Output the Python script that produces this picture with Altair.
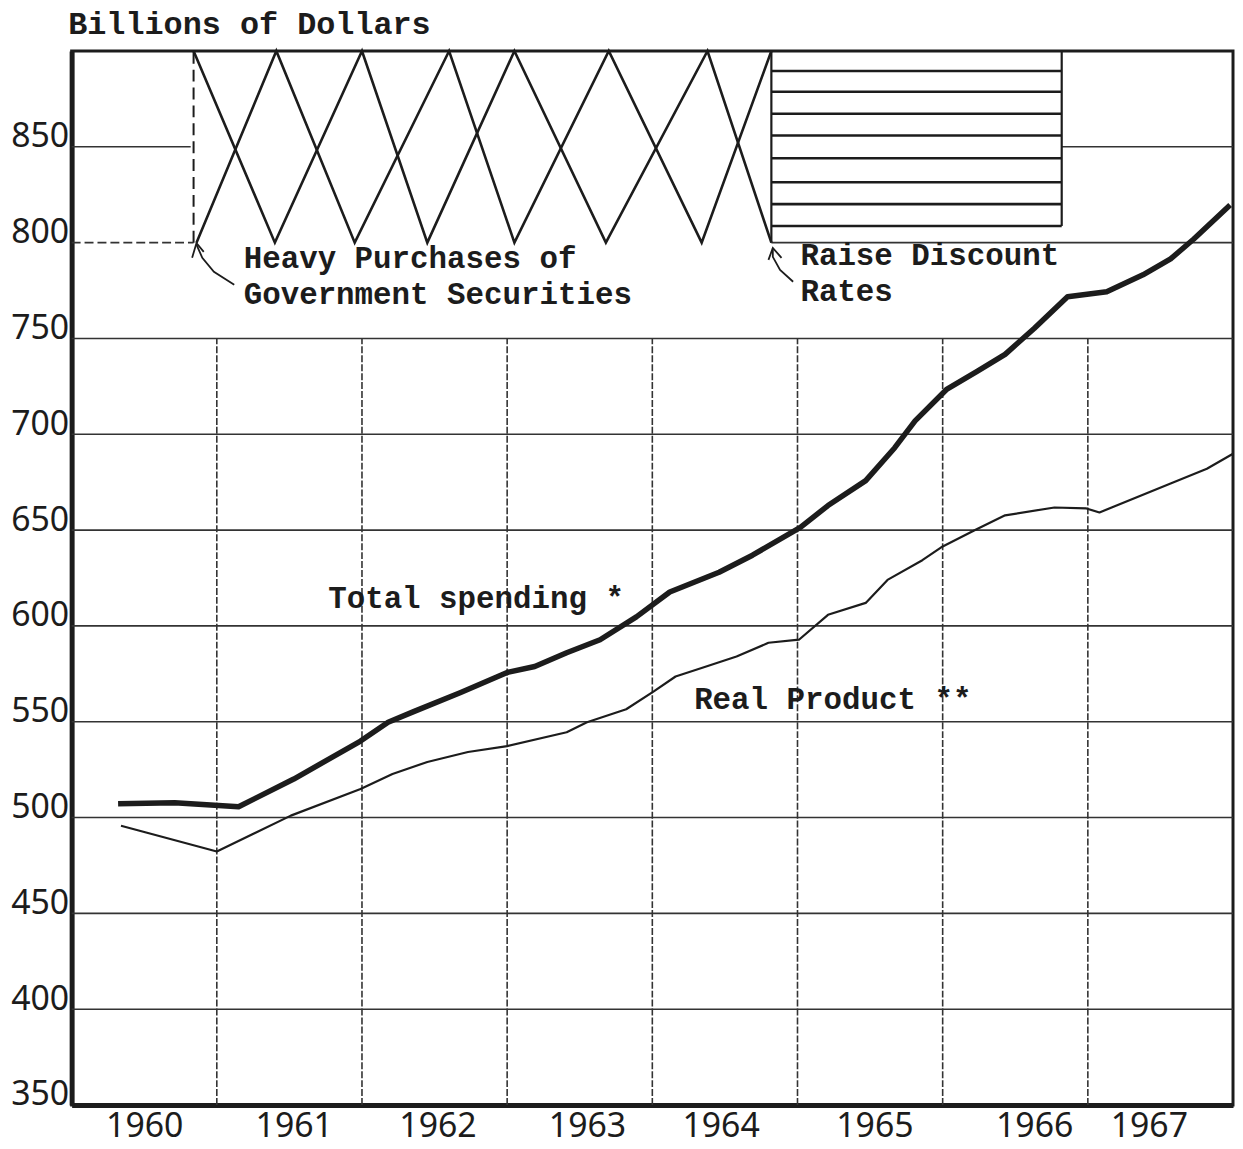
import altair as alt
import pandas as pd

INK = "#1c1c1c"
FONT_TYPE = "Liberation Mono"
FONT_HAND = "Noto Sans"

# ---- data series (x in fractional years, values in billions of dollars) ----
spend_t = [1960.32, 1960.71, 1961.15, 1961.53, 1961.99, 1962.18, 1962.36, 1962.68,
           1963.00, 1963.19, 1963.41, 1963.64, 1963.89, 1964.12, 1964.46, 1964.69,
           1965.02, 1965.21, 1965.47, 1965.67, 1965.81, 1966.03, 1966.24, 1966.43,
           1966.63, 1966.86, 1967.13, 1967.38, 1967.57, 1967.73, 1967.98]
spend_v = [507.2, 507.7, 505.6, 520.1, 539.9, 549.7, 555.4, 565.3,
           575.7, 578.8, 586.0, 592.8, 604.7, 617.7, 628.0, 636.9,
           651.4, 662.8, 675.8, 693.0, 707.0, 723.6, 732.9, 741.7,
           755.2, 771.8, 774.4, 783.2, 791.5, 801.9, 819.6]

real_t = [1960.34, 1961.00, 1961.51, 1961.99, 1962.21, 1962.45, 1962.73, 1963.00,
          1963.41, 1963.55, 1963.82, 1964.01, 1964.16, 1964.35, 1964.58, 1964.80,
          1965.01, 1965.21, 1965.47, 1965.62, 1965.86, 1965.99, 1966.22, 1966.43,
          1966.77, 1966.99, 1967.08, 1967.57, 1967.82, 1968.00]
real_v = [495.7, 482.3, 501.0, 514.9, 522.7, 529.0, 534.2, 537.3,
          544.5, 549.7, 556.5, 565.8, 573.6, 578.3, 584.0, 591.2,
          592.8, 605.8, 612.0, 624.0, 634.3, 641.0, 649.9, 657.7,
          661.8, 661.3, 659.2, 674.3, 682.0, 689.8]

# ---- axes ----
y_ticks = [350, 400, 450, 500, 550, 600, 650, 700, 750, 800, 850]
year_label_pos = [1960.5, 1961.53, 1962.52, 1963.55, 1964.47, 1965.53, 1966.63, 1967.42]
year_bounds = [1961, 1962, 1963, 1964, 1965, 1966, 1967]
full_grid = [400, 450, 500, 550, 600, 650, 700, 750]

# ---- policy annotation band (800-900) ----
zig_a_t = [1960.84, 1961.40, 1962.00, 1962.45, 1963.05, 1963.68, 1964.38, 1964.82]
zig_a_v = [900, 800, 900, 800, 900, 800, 900, 800]
zig_b_t = [1960.86, 1961.41, 1961.95, 1962.60, 1963.05, 1963.70, 1964.34, 1964.82]
zig_b_v = [800, 900, 800, 900, 800, 900, 800, 900]
hatch_v = [889.6, 878.7, 867.3, 855.9, 844.0, 831.5, 820.1, 808.7]
hatch_x0, hatch_x1 = 1964.82, 1966.82
purch_x = 1960.84

part_grid_y = [850, 850, 800]
part_grid_x = [1960.0, 1966.82, 1964.82]
part_grid_x2 = [1960.82, 1968.0, 1968.0]

ann_text = ["Heavy Purchases of\nGovernment Securities", "Raise Discount\nRates",
            "Total spending *", "Real Product **"]
ann_x = [1961.185, 1965.02, 1961.767, 1964.288]
ann_y = [786.6, 788.2, 609.4, 556.5]

arrow_id = ["h", "h", "h", "h", "hh", "hh", "hh", "r", "r", "r", "r", "rh", "rh", "rh"]
arrow_t = [1961.12, 1960.98, 1960.90, 1960.86, 1960.83, 1960.86, 1960.91,
           1964.97, 1964.88, 1964.83, 1964.83, 1964.80, 1964.83, 1964.89]
arrow_v = [778.0, 784.8, 792.1, 799.0, 792.1, 799.8, 795.2,
           779.6, 785.8, 792.6, 797.2, 791.0, 797.2, 792.1]

# ---- scales / axes ----
xs = alt.Scale(domain=[1960, 1968], nice=False, zero=False)
ys = alt.Scale(domain=[350, 900], nice=False, zero=False)

x_axis = alt.Axis(values=year_label_pos, labelExpr="floor(datum.value)", grid=False, ticks=False,
                  domain=True, domainWidth=5, domainColor=INK, labelFont=FONT_HAND,
                  labelFontSize=34, labelColor=INK, labelPadding=5, title=None,
                  labelFlush=False, labelOverlap=False)
y_axis = alt.Axis(values=y_ticks, grid=False, ticks=False, domain=True, domainWidth=5,
                  domainColor=INK, labelFont=FONT_HAND, labelFontSize=34, labelColor=INK,
                  labelPadding=3, labelOffset=-10, labelFlush=False, labelOverlap=False,
                  title="Billions of Dollars", titleAngle=0, titleAlign="left",
                  titleBaseline="alphabetic", titleX=-4, titleY=-18, titleFont=FONT_TYPE,
                  titleFontSize=32, titleFontWeight="bold", titleColor=INK)


def X(f="t", **kw):
    return alt.X(f, type="quantitative", scale=xs, axis=x_axis, **kw)


def Y(f="v", **kw):
    return alt.Y(f, type="quantitative", scale=ys, axis=y_axis, **kw)


spend_df = pd.DataFrame({"t": spend_t, "v": spend_v})
real_df = pd.DataFrame({"t": real_t, "v": real_v})
vgrid_df = pd.DataFrame({"t": year_bounds, "v": [350] * 7, "v2": [750] * 7})
hgrid_df = pd.DataFrame({"t": [1960.0] * len(full_grid), "t2": [1968.0] * len(full_grid), "v": full_grid})
pgrid_df = pd.DataFrame({"t": part_grid_x, "t2": part_grid_x2, "v": part_grid_y})
left800_df = pd.DataFrame({"t": [1960.0], "t2": [purch_x], "v": [800]})
zig_df = pd.DataFrame({
    "t": zig_a_t + zig_b_t,
    "v": zig_a_v + zig_b_v,
    "line": ["a"] * len(zig_a_t) + ["b"] * len(zig_b_t),
    "i": list(range(len(zig_a_t))) + list(range(len(zig_b_t))),
})
hatch_df = pd.DataFrame({"t": [hatch_x0] * len(hatch_v), "t2": [hatch_x1] * len(hatch_v), "v": hatch_v})
box_v_df = pd.DataFrame({"t": [hatch_x0, hatch_x1], "v": [800, min(hatch_v)], "v2": [900, 900]})
purch_df = pd.DataFrame({"t": [purch_x], "v": [800], "v2": [900]})
ann_df = pd.DataFrame({"t": ann_x, "v": ann_y, "label": ann_text})
arrow_df = pd.DataFrame({"t": arrow_t, "v": arrow_v, "id": arrow_id, "i": list(range(len(arrow_t)))})

vgrid = alt.Chart(vgrid_df).mark_rule(color="#333", strokeWidth=1.6, strokeDash=[7, 2]).encode(
    x=X(), y=Y(), y2="v2")
hgrid = alt.Chart(hgrid_df).mark_rule(color="#333", strokeWidth=1.6).encode(x=X(), x2="t2", y=Y())
pgrid = alt.Chart(pgrid_df).mark_rule(color="#333", strokeWidth=1.6).encode(x=X(), x2="t2", y=Y())
left800 = alt.Chart(left800_df).mark_rule(color="#333", strokeWidth=1.6, strokeDash=[9, 4]).encode(
    x=X(), x2="t2", y=Y())
zig = alt.Chart(zig_df).mark_line(color=INK, strokeWidth=2.6).encode(
    x=X(), y=Y(), detail="line:N", order="i:Q")
hatch = alt.Chart(hatch_df).mark_rule(color=INK, strokeWidth=2.6).encode(x=X(), x2="t2", y=Y())
box_v = alt.Chart(box_v_df).mark_rule(color=INK, strokeWidth=2.2).encode(x=X(), y=Y(), y2="v2")
purch = alt.Chart(purch_df).mark_rule(color=INK, strokeWidth=2, strokeDash=[12, 6]).encode(
    x=X(), y=Y(), y2="v2")
arrows = alt.Chart(arrow_df).mark_line(color=INK, strokeWidth=1.8).encode(
    x=X(), y=Y(), detail="id:N", order="i:Q")

spend = alt.Chart(spend_df).mark_line(color=INK, strokeWidth=5.5, strokeJoin="round").encode(x=X(), y=Y())
real = alt.Chart(real_df).mark_line(color=INK, strokeWidth=2.2, strokeJoin="round").encode(x=X(), y=Y())

ann = alt.Chart(ann_df).mark_text(font=FONT_TYPE, fontSize=31, fontWeight="bold", color=INK,
                                   align="left", baseline="alphabetic", lineBreak="\n",
                                   lineHeight=36).encode(
    x=X(), y=Y(), text="label:N")

chart = alt.layer(vgrid, hgrid, pgrid, left800, zig, hatch, box_v, purch, arrows, spend, real, ann).properties(
    width=1168, height=1060,
    autosize=alt.AutoSizeParams(type="none"),
    padding={"left": 64, "top": 40, "right": 2, "bottom": 41},
    background="white",
).configure_view(stroke=INK, strokeWidth=3)

chart.save("out.html", embed_options={"renderer": "svg", "actions": False})
